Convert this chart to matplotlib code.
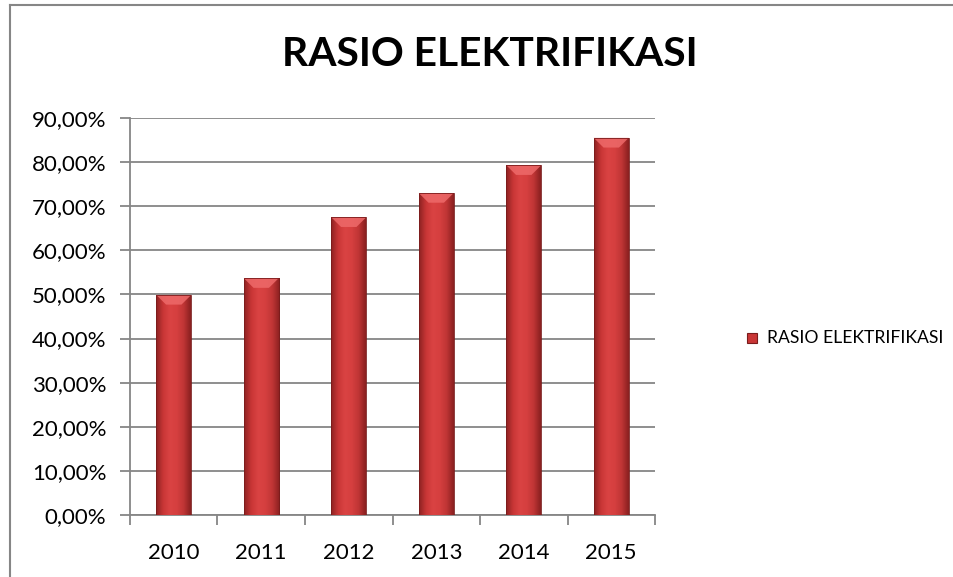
import numpy as np
import matplotlib
matplotlib.use("Agg")
import matplotlib.pyplot as plt
from matplotlib.patches import Polygon, Rectangle
from matplotlib.lines import Line2D
from matplotlib.colors import LinearSegmentedColormap

years = ["2010", "2011", "2012", "2013", "2014", "2015"]
rasio = [49.9, 53.7, 67.5, 73.0, 79.3, 85.5]  # percent
title = "RASIO ELEKTRIFIKASI"
yticks = [0, 10, 20, 30, 40, 50, 60, 70, 80, 90]

plt.rcParams["font.family"] = ["Lato", "DejaVu Sans"]
grid_col = "#868686"

# horizontal shading across each bar, like the bevelled Excel bars
bar_cmap = LinearSegmentedColormap.from_list(
    "bar", ["#8e2222", "#c93636", "#da4343", "#d53f3f", "#bf3535", "#8a2020"])
grad = np.linspace(0, 1, 64).reshape(1, -1)

W, H = 954, 577
fig = plt.figure(figsize=(W / 100, H / 100), dpi=100)
ax = fig.add_axes([130 / W, 62 / H, 525 / W, 397 / H])

x = np.arange(len(years))
bars = ax.bar(x, rasio, width=0.4, facecolor="none", edgecolor="none", zorder=3)
for b in bars:
    x0, w, h = b.get_x(), b.get_width(), b.get_height()
    im = ax.imshow(grad, cmap=bar_cmap, extent=[x0, x0 + w, 0, h],
                   aspect="auto", zorder=3, interpolation="bicubic")
    im.set_clip_path(b)
    # lighter bevel on top
    bh = 2.2
    ax.add_patch(Polygon([[x0, h], [x0 + w, h], [x0 + w * 0.72, h - bh],
                          [x0 + w * 0.28, h - bh]],
                         closed=True, facecolor="#ee6a6a", edgecolor="none",
                         alpha=0.85, zorder=4))
    ax.add_patch(Rectangle((x0, 0), w, h, facecolor="none",
                           edgecolor="#7a1c1c", lw=0.6, zorder=5))

ax.set_xlim(-0.5, len(years) - 0.5)
ax.set_ylim(0, 90)
ax.set_yticks(yticks)
ax.set_yticklabels([f"{v:.2f}%".replace(".", ",") for v in yticks], fontsize=16)
ax.set_xticks(x)
ax.set_xticklabels(years, fontsize=16)
ax.set_xticks(np.arange(len(years) + 1) - 0.5, minor=True)
ax.tick_params(axis="x", which="major", length=0, pad=20)
ax.tick_params(axis="x", which="minor", length=7, width=1.3, color=grid_col)
ax.tick_params(axis="y", length=7, width=1.3, color=grid_col, pad=10)
ax.yaxis.grid(True, color=grid_col, lw=1.3, zorder=1)
ax.set_axisbelow(True)
for s in ["top", "right"]:
    ax.spines[s].set_visible(False)
for s in ["left", "bottom"]:
    ax.spines[s].set_color(grid_col)
    ax.spines[s].set_linewidth(1.3)

fig.text(490 / W, 1 - 54 / H, title, ha="center", va="center",
         fontsize=29.3, fontweight="bold")

# legend
lx, ly = 752, 338
fig.patches.append(Rectangle(((lx - 5) / W, 1 - (ly + 5) / H), 10 / W, 10 / H,
                             transform=fig.transFigure, facecolor="#c93636",
                             edgecolor="#7a1c1c", lw=0.8))
fig.text(767 / W, 1 - ly / H, title, ha="left", va="center", fontsize=12.6)

# chart border
fig.lines.append(Line2D([10 / W, 10 / W], [0, 1 - 5 / H], transform=fig.transFigure,
                        color=grid_col, lw=1.5))
fig.lines.append(Line2D([10 / W, 1], [1 - 5 / H, 1 - 5 / H], transform=fig.transFigure,
                        color=grid_col, lw=1.5))

fig.savefig("out.png", dpi=100, facecolor="white")
